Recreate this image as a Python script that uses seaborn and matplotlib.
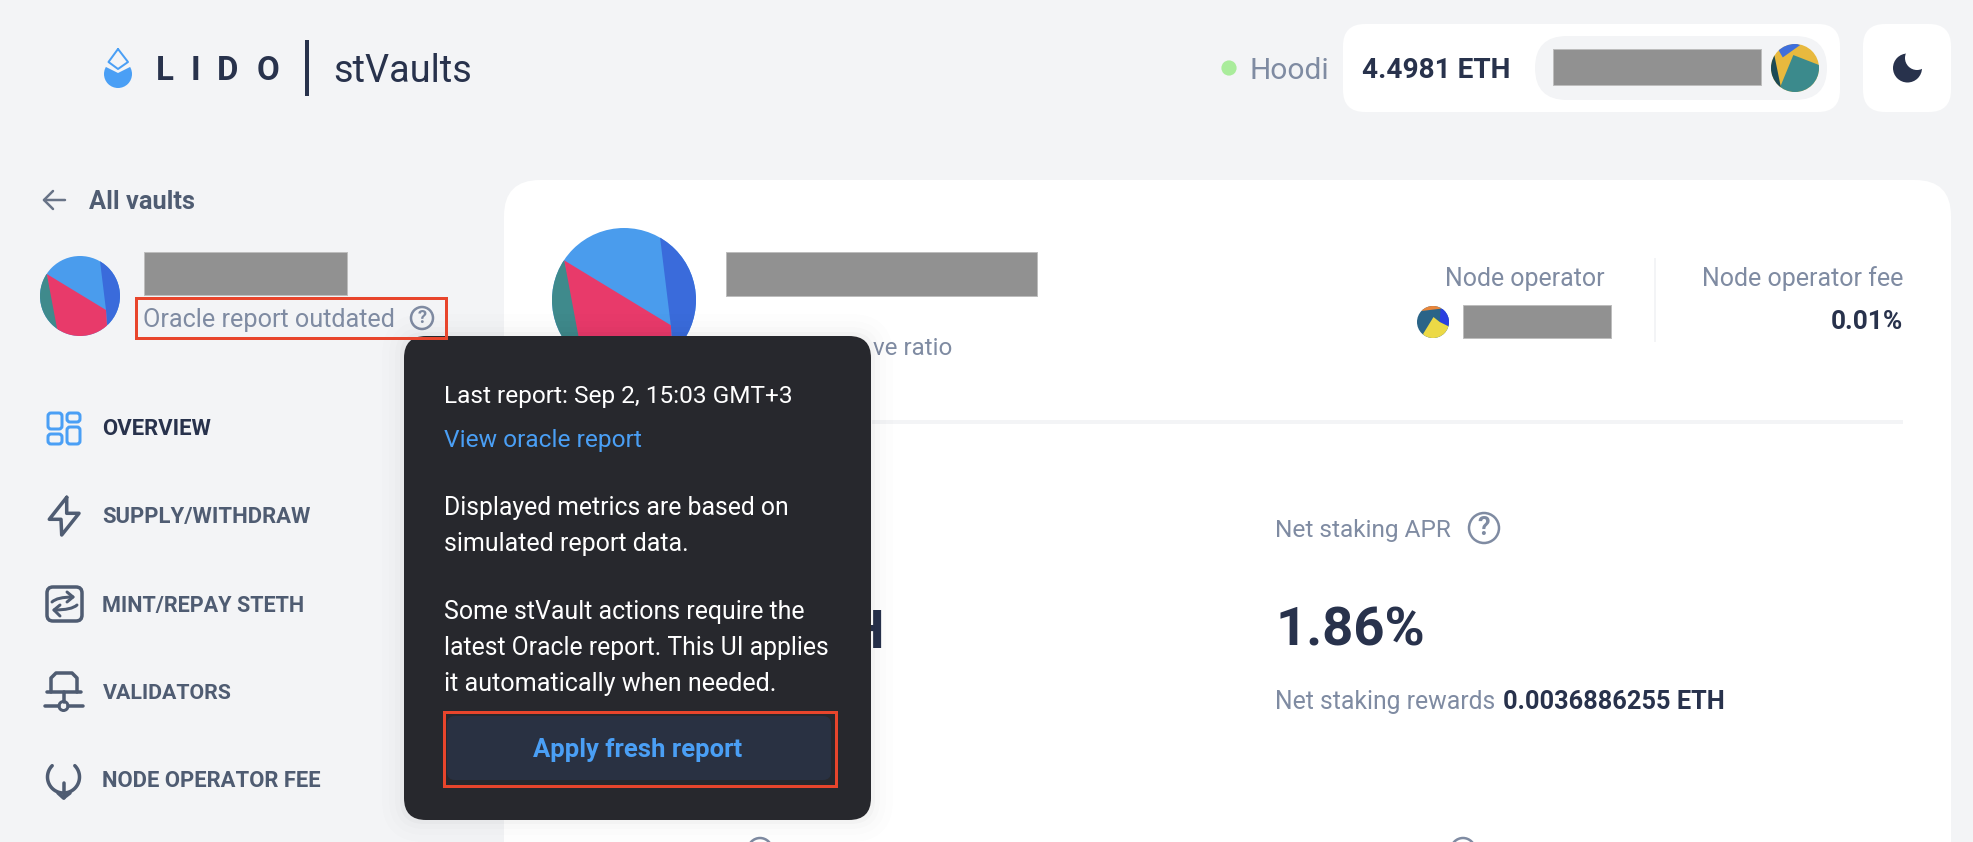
import numpy as np
import matplotlib
matplotlib.use("Agg")
import matplotlib.pyplot as plt
import pandas as pd
import seaborn as sns
from matplotlib.font_manager import FontProperties
from matplotlib.patches import Circle, FancyBboxPatch, Polygon, PathPatch, Rectangle
from matplotlib.path import Path
from matplotlib.textpath import TextPath

# texts and values
brand_letters = ["L", "I", "D", "O"]
product_name = "stVaults"
network_name = "Hoodi"
wallet_balance = "4.4981 ETH"
back_label = "All vaults"
oracle_label = "Oracle report outdated"
nav_labels = ["OVERVIEW", "SUPPLY/WITHDRAW", "MINT/REPAY STETH", "VALIDATORS", "NODE OPERATOR FEE"]
tooltip_lines = [
    "Last report: Sep 2, 15:03 GMT+3",
    "View oracle report",
    "Displayed metrics are based on",
    "simulated report data.",
    "Some stVault actions require the",
    "latest Oracle report. This UI applies",
    "it automatically when needed.",
]
button_label = "Apply fresh report"
operator_label = "Node operator"
fee_label = "Node operator fee"
fee_value = "0.01%"
apr_label = "Net staking APR"
apr_value = "1.86%"
rewards_label = "Net staking rewards"
rewards_value = "0.0036886255 ETH"

BG = "#f3f4f6"
DARK = "#28324c"
GRAY = "#7f8ba2"
NAV = "#4f5c72"
BLUE = "#4a9ff5"
RED = "#e8452c"
FONT = "Roboto"

sns.set_theme(style="white")
plt.rcParams["font.family"] = [FONT, "DejaVu Sans"]

fig, ax = plt.subplots(figsize=(19.74, 8.42), dpi=100)
fig.subplots_adjust(0, 0, 1, 1)
fig.patch.set_facecolor(BG)
ax.set_facecolor(BG)
ax.set_xlim(0, 1974)
ax.set_ylim(842, 0)
ax.axis("off")


def lw(px):
    return px * 0.72


def fit_text(x0, x1, y, s, color=GRAY, weight="normal", z=3, size=None):
    """Write s so it spans x0..x1 with its capitals centred on y."""
    prop = FontProperties(family=FONT, weight=weight)
    width = TextPath((0, 0), s, size=100, prop=prop).get_extents().width
    px = size if size else (x1 - x0) / width * 100
    # the side bearing of the first glyph pushes text right a little
    ax.text(x0 - 2, y + 0.36 * px, s, color=color, fontsize=px * 0.72, fontweight=weight,
            family=FONT, va="baseline", ha="left", zorder=z)
    return px


def box(x0, y0, x1, y1, r, color, z=1, alpha=1, edge="none", width=0):
    p = FancyBboxPatch((x0, y0), x1 - x0, y1 - y0, boxstyle=f"round,pad=0,rounding_size={r}",
                       fc=color, ec=edge, lw=lw(width), alpha=alpha, zorder=z)
    ax.add_patch(p)
    return p


def redacted(x0, y0, x1, y1):
    ax.add_patch(Rectangle((x0, y0), x1 - x0, y1 - y0, fc="#919191", ec="#bdbdbd", lw=lw(1), zorder=2))


def avatar(cx, cy, r, base, shapes):
    disc = Circle((cx, cy), r, fc=base, ec="none", zorder=2)
    ax.add_patch(disc)
    for color, pts in shapes:
        pts = np.array(pts) * r + [cx, cy]
        poly = Polygon(pts, fc=color, ec="none", zorder=2)
        ax.add_patch(poly)
        poly.set_clip_path(disc)


def help_icon(cx, cy, r, color=GRAY, mark=True):
    ax.add_patch(Circle((cx, cy), r, fc="none", ec=color, lw=lw(2.5), zorder=3))
    if mark:
        ax.text(cx, cy, "?", color=color, ha="center", va="center", fontsize=r * 1.2, zorder=3, fontweight="bold")


def stroke(pts, color=NAV, width=3.5, z=3, closed=False):
    pts = np.array(pts)
    if closed:
        pts = np.vstack([pts, pts[:1]])
    ax.plot(pts[:, 0], pts[:, 1], color=color, lw=lw(width), solid_capstyle="round",
            solid_joinstyle="round", zorder=z)


# header: logo
drop = Circle((118, 74), 14, fc=BLUE, ec="none", zorder=2)
ax.add_patch(drop)
drop.set_clip_path(Polygon([(100, 66), (105, 66.5), (118, 73), (131, 66.5), (136, 66), (136, 92), (100, 92)],
                           transform=ax.transData))
stroke([(118, 49), (128, 62), (118, 69), (108.5, 62)], BLUE, 2, closed=True)
for letter, (x0, x1) in zip(brand_letters, [(158, 173), (193, 197), (219, 238), (259, 280)]):
    fit_text(x0, x1, 68, letter, DARK, "bold", size=33)
ax.add_patch(Rectangle((305, 40), 4, 56, fc=DARK, ec="none", zorder=2))
fit_text(335, 470, 68, product_name, DARK)

# header: network, wallet and theme switch
sns.scatterplot(x=[1229], y=[68], s=120, color="#a9ec9b", edgecolor="none", legend=False, ax=ax, zorder=3)
ax.set_xlim(0, 1974)
ax.set_ylim(842, 0)
ax.axis("off")
fit_text(1251, 1326, 68, network_name)
box(1343, 24, 1840, 112, 22, "white")
fit_text(1364, 1510, 68, wallet_balance, DARK, "bold")
box(1535, 36, 1827, 100, 32, BG)
redacted(1553, 49, 1761, 85)
avatar(1795, 68, 24, "#e8b93e", [
    ("#3f6fdc", [(-0.73, -0.82), (-0.51, -0.44), (0.22, -0.96), (-0.2, -1.1)]),
    ("#3b8a8c", [(-0.6, 0.75), (-0.07, -0.54), (1, -0.125), (1.1, 1.1), (-0.6, 1.1)]),
    ("#1c4a55", [(-1.1, -0.6), (-0.89, -0.68), (-0.6, 0.75), (-0.6, 1.1), (-1.1, 1.1)]),
])
box(1863, 24, 1951, 112, 22, "white")
ax.add_patch(Circle((1907.5, 68), 14.5, fc=DARK, ec="none", zorder=2))
ax.add_patch(Circle((1917, 58), 12, fc="white", ec="none", zorder=2))

# sidebar
stroke([(65, 200), (44, 200)], "#687387", 2.5)
stroke([(53, 191), (44, 200), (53, 209)], "#687387", 2.5)
fit_text(91, 196, 200, back_label, NAV, "bold")

vault_shapes = [
    ("#3f8a8c", [(-1.1, -0.55), (-0.83, -0.55), (-0.52, 0.8), (-0.52, 1.1), (-1.1, 1.1)]),
    ("#3a6bdb", [(0.5, -1.1), (0.5, -0.875), (0.65, 0.35), (0.68, 0.72), (1.1, 0.72), (1.1, -1.1)]),
    ("#e83a6a", [(-0.83, -0.55), (0.65, 0.35), (0.7, 1.1), (-0.52, 1.1)]),
]
avatar(80, 296, 40, "#4a9ced", vault_shapes)
redacted(144, 252, 347, 295)
fit_text(145, 395, 318, oracle_label)
help_icon(422, 318, 11)
ax.add_patch(Rectangle((136, 298), 310, 40, fc="none", ec=RED, lw=lw(3), zorder=15))

nav_ends = [212, 312, 304, 233, 321]
nav_centres = [427, 515, 604, 691, 779]
nav_colors = [DARK, NAV, NAV, NAV, NAV]
for label, x1, y, c in zip(nav_labels, nav_ends, nav_centres, nav_colors):
    fit_text(104.5, x1, y, label, c, "bold")

# overview icon
for x0, y0, x1, y1 in [(48, 413, 62, 429), (67, 413, 80, 422), (48, 434, 62, 444), (67, 427, 80, 444)]:
    box(x0, y0, x1, y1, 3, "none", z=3, edge=BLUE, width=3)
# supply icon
stroke([(66.7, 497.3), (49.3, 519.3), (61, 519.3), (61.7, 535), (79, 513.3), (66.7, 513.3)], closed=True)
# mint icon
box(47, 587, 82, 621, 6, "none", z=3, edge=NAV, width=3.5)
for verts in [[(52, 602), (57, 597), (73, 597)], [(77, 605), (72, 610), (54, 610)]]:
    ax.add_patch(PathPatch(Path(verts, [Path.MOVETO, Path.CURVE3, Path.CURVE3]), fc="none", ec=NAV,
                           lw=lw(3), capstyle="round", zorder=3))
stroke([(67, 592), (73, 597), (67, 602)], width=3)
stroke([(60, 605), (54, 610), (60, 616)], width=3)
# validators icon
stroke([(51, 692), (51, 678), (56, 673), (72, 673), (77, 678), (77, 692)])
stroke([(47, 692), (81, 692)])
stroke([(63.5, 692), (63.5, 702)])
stroke([(45, 706), (59, 706)])
stroke([(68, 706), (83, 706)])
ax.add_patch(Circle((63.5, 706), 4.5, fc="none", ec=NAV, lw=lw(3), zorder=3))
# node operator fee icon
angles = np.radians(np.linspace(135, 405, 60))
stroke(np.column_stack([63.5 + 16 * np.cos(angles), 777 - 16 * np.sin(angles)]))
stroke([(63.5, 783), (63.5, 798)])
stroke([(58, 793), (63.5, 798), (70, 793)])

# main panel
box(504, 180, 1951, 900, 36, "white")
avatar(624, 300, 72, "#4a9ced", vault_shapes)
redacted(726, 252, 1037, 296)
fit_text(875, 953, 346, "ve ratio")
ax.add_patch(Rectangle((872, 420), 1031, 4, fc=BG, ec="none", zorder=2))
fit_text(1447, 1604, 277, operator_label)
avatar(1433, 322, 16, "#2a6488", [
    ("#e9863a", [(-0.71, -0.69), (0.48, -0.83), (0.6, -1.1), (-0.71, -1.1)]),
    ("#2b3fe0", [(0.48, -0.83), (0.42, 0), (0.97, 0.27), (1.1, 0.27), (1.1, -0.83)]),
    ("#ecd946", [(-0.61, 0.73), (0.03, -0.31), (0.42, 0), (0.97, 0.27), (1.1, 1.1), (-0.61, 1.1)]),
])
redacted(1463, 305, 1611, 338)
ax.add_patch(Rectangle((1654, 258), 2, 84, fc=BG, ec="none", zorder=2))
fit_text(1704, 1903, 277, fee_label)
fit_text(1833, 1903, 320, fee_value, DARK, "bold")

big_px = fit_text(1277, 1420, 626, apr_value, DARK, "bold")
fit_text(1277, 1451, 528, apr_label)
help_icon(1484, 528, 15)
fit_text(1277, 1494, 700, rewards_label)
fit_text(1505, 1724, 700, rewards_value, DARK, "bold")
# only the end of this figure shows past the tooltip
ax.text(884, 628 + 0.36 * big_px, "H", color=DARK, fontsize=big_px * 0.72, fontweight="bold",
        family=FONT, ha="right", va="baseline", zorder=3)
help_icon(760, 850, 12, mark=False)
help_icon(1463, 850, 12, mark=False)

# tooltip
for pad, a in [(22, 0.006), (15, 0.008), (9, 0.012), (4, 0.02)]:
    box(404 - pad, 336 - pad, 871 + pad, 820 + pad, 20 + pad, "black", z=9, alpha=a)
box(404, 336, 871, 820, 22, "#27282d", z=10)
tip_ends = [791, 642, 786, 687, 804, 827, 775]
tip_centres = [394, 438, 506, 542, 610, 646, 682]
tip_colors = ["white", BLUE, "white", "white", "white", "white", "white"]
for line, x1, y, c in zip(tooltip_lines, tip_ends, tip_centres, tip_colors):
    fit_text(445.5, x1, y, line, c, z=12)
box(447, 716, 831, 780, 8, "#293142", z=11)
ax.add_patch(Rectangle((444, 712), 392, 74, fc="none", ec=RED, lw=lw(3), zorder=15))
fit_text(535, 743, 748, button_label, BLUE, "bold", z=12)

fig.savefig("out.png", dpi=100, facecolor=BG)
